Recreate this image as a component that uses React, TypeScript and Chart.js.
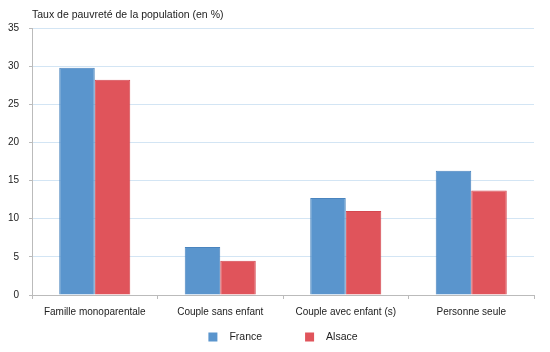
import React, { useEffect, useRef } from "react";
import { Chart, registerables } from "chart.js";

Chart.register(...registerables);

const categories = ["Famille monoparentale", "Couple sans enfant", "Couple avec enfant (s)", "Personne seule"];
const franceValues = [29.8, 6.3, 12.7, 16.3];
const alsaceValues = [28.2, 4.5, 11.0, 13.7];
const seriesNames = ["France", "Alsace"];
const titleText = "Taux de pauvreté de la population (en %)";

const FONT = "'Liberation Sans', Arial, sans-serif";

const titlePlugin = {
  id: "customTitle",
  afterDraw(chart: any) {
    const ctx = chart.ctx;
    ctx.save();
    ctx.font = `10.5px ${FONT}`;
    ctx.fillStyle = "#222222";
    ctx.textAlign = "left";
    ctx.textBaseline = "alphabetic";
    ctx.fillText(titleText, chart.chartArea.left, 18);
    ctx.restore();
  },
};

const legendPlugin = {
  id: "customLegend",
  afterDraw(chart: any) {
    const ctx = chart.ctx;
    const area = chart.chartArea;
    ctx.save();
    ctx.font = `10.5px ${FONT}`;
    const box = 9;
    const gap = 12;
    const spacing = 43;
    const ds = chart.data.datasets;
    const widths = ds.map((d: any) => box + gap + ctx.measureText(d.label).width);
    const total = widths.reduce((a: number, b: number) => a + b, 0) + spacing * (ds.length - 1);
    let x = (area.left + area.right) / 2 - total / 2;
    const cy = 337;
    ds.forEach((d: any, i: number) => {
      ctx.fillStyle = d.backgroundColor;
      ctx.fillRect(x, cy - box / 2, box, box);
      ctx.fillStyle = "#222222";
      ctx.textAlign = "left";
      ctx.textBaseline = "middle";
      ctx.fillText(d.label, x + box + gap, cy);
      x += widths[i] + spacing;
    });
    ctx.restore();
  },
};

export default function App() {
  const ref = useRef<HTMLCanvasElement>(null);
  useEffect(() => {
    document.body.style.margin = "0";
    const chart = new Chart(ref.current!, {
      type: "bar",
      data: {
        labels: categories,
        datasets: [
          {
            label: seriesNames[0],
            data: franceValues,
            backgroundColor: "#5A95CD",
            borderColor: "#4A84BE",
            borderWidth: 1,
            categoryPercentage: 0.566,
            barPercentage: 1,
          },
          {
            label: seriesNames[1],
            data: alsaceValues,
            backgroundColor: "#E0545B",
            borderColor: "#D4474F",
            borderWidth: 1,
            categoryPercentage: 0.566,
            barPercentage: 1,
          },
        ],
      },
      options: {
        animation: false,
        responsive: false,
        maintainAspectRatio: false,
        layout: { padding: { top: 28, right: 16, left: 0, bottom: 0 } },
        plugins: {
          legend: { display: false },
          title: { display: false },
          tooltip: { enabled: false },
        },
        scales: {
          x: {
            grid: {
              display: true,
              drawOnChartArea: false,
              drawTicks: true,
              tickLength: 4,
              tickColor: "#BBBBBB",
              offset: true,
            },
            border: { color: "#BBBBBB", width: 1 },
            ticks: {
              color: "#222222",
              font: { family: FONT, size: 10 },
              padding: 7,
              maxRotation: 0,
              autoSkip: false,
            },
            afterFit(scale: any) {
              scale.height = 57;
            },
          },
          y: {
            min: 0,
            max: 35,
            ticks: {
              stepSize: 5,
              color: "#222222",
              font: { family: FONT, size: 10 },
              padding: 10,
            },
            grid: {
              color: "#D3E5F4",
              tickColor: "#BBBBBB",
              tickLength: 3,
              drawTicks: true,
            },
            border: { color: "#BBBBBB", width: 1 },
            afterFit(scale: any) {
              scale.width = 32;
            },
          },
        },
      },
      plugins: [titlePlugin, legendPlugin],
    });
    return () => chart.destroy();
  }, []);
  return (
    <div style={{ width: 550, height: 352 }}>
      <canvas ref={ref} width={550} height={352} style={{ width: 550, height: 352, display: "block" }} />
    </div>
  );
}
